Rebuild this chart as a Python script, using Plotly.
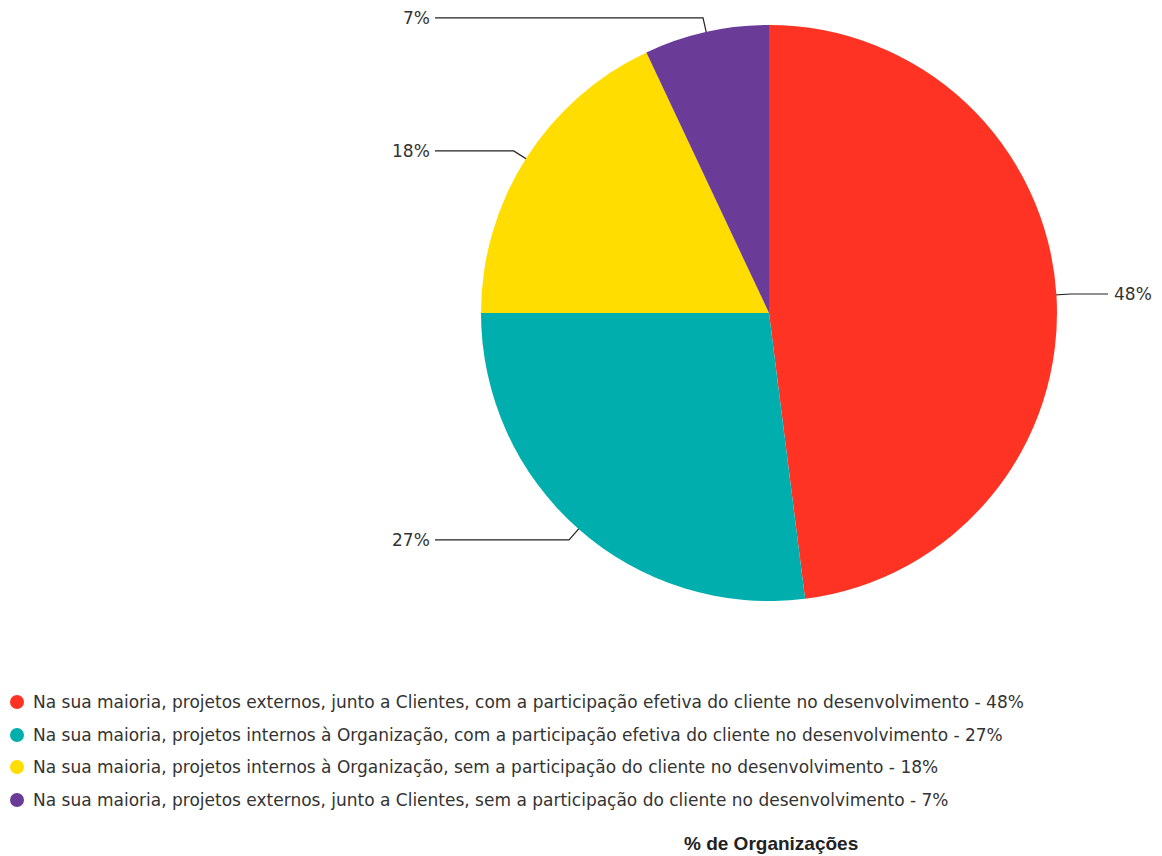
import math
import plotly.graph_objects as go

# Categories and shares (% of organisations)
categorias = [
    "Na sua maioria, projetos externos, junto a Clientes, com a participação efetiva do cliente no desenvolvimento",
    "Na sua maioria, projetos internos à Organização, com a participação efetiva do cliente no desenvolvimento",
    "Na sua maioria, projetos internos à Organização, sem a participação do cliente no desenvolvimento",
    "Na sua maioria, projetos externos, junto a Clientes, sem a participação do cliente no desenvolvimento",
]
percentuais = [48, 27, 18, 7]
cores = ["#FF3323", "#00AFAD", "#FFDD00", "#6A3C98"]
titulo = "% de Organizações"

W, H = 1162, 856
# pie geometry in page pixels
CX, CY, R = 769, 313, 288
TEXT = "#333333"
FONT = "DejaVu Sans"

fig = go.Figure()

fig.add_trace(go.Pie(
    labels=categorias,
    values=percentuais,
    marker=dict(colors=cores, line=dict(width=0)),
    sort=False,
    direction="clockwise",
    rotation=0,
    textinfo="none",
    hoverinfo="label+percent",
    showlegend=False,
    domain=dict(x=[(CX - R) / W, (CX + R) / W], y=[1 - (CY + R) / H, 1 - (CY - R) / H]),
))

# leader lines + outside labels, positioned from each slice's mid-angle
total = sum(percentuais)
acum = 0
for p in percentuais:
    mid = (acum + p / 2) / total * 2 * math.pi
    acum += p
    s, c = math.sin(mid), math.cos(mid)
    x1, y1 = CX + 0.9 * R * s, CY - 0.9 * R * c
    x2, y2 = CX + 1.05 * R * s, CY - 1.05 * R * c
    direita = s >= 0
    x3 = 1108 if direita else 435
    fig.add_trace(go.Scatter(
        x=[x1, x2, x3], y=[y1, y2, y2], mode="lines",
        line=dict(color="#222222", width=1.2),
        hoverinfo="skip", showlegend=False,
    ))
    fig.add_annotation(
        x=x3 + (4 if direita else -3), y=y2, xref="x", yref="y",
        text=f"{p}%", showarrow=False,
        xanchor="left" if direita else "right", yanchor="middle",
        font=dict(family=FONT, size=17, color=TEXT),
    )

# legend rows with round markers
linhas_y = [702, 735, 767, 800]
fig.add_trace(go.Scatter(
    x=[17] * len(categorias), y=linhas_y, mode="markers",
    marker=dict(size=14, color=cores, line=dict(width=0)),
    hoverinfo="skip", showlegend=False,
))
for cat, p, yy in zip(categorias, percentuais, linhas_y):
    fig.add_annotation(
        x=31, y=yy, xref="x", yref="y",
        text=f"{cat} - {p}%", showarrow=False,
        xanchor="left", yanchor="middle",
        font=dict(family=FONT, size=17, color=TEXT),
    )

fig.add_annotation(
    x=771, y=843, xref="x", yref="y", text=f"<b>{titulo}</b>",
    showarrow=False, xanchor="center", yanchor="middle",
    font=dict(family="Liberation Sans", size=19, color="#222222"),
)

fig.update_layout(
    width=W, height=H,
    margin=dict(l=0, r=0, t=0, b=0),
    paper_bgcolor="white", plot_bgcolor="rgba(0,0,0,0)",
    xaxis=dict(range=[0, W], visible=False, fixedrange=True),
    yaxis=dict(range=[H, 0], visible=False, fixedrange=True),
)

fig.write_html("out.html")
